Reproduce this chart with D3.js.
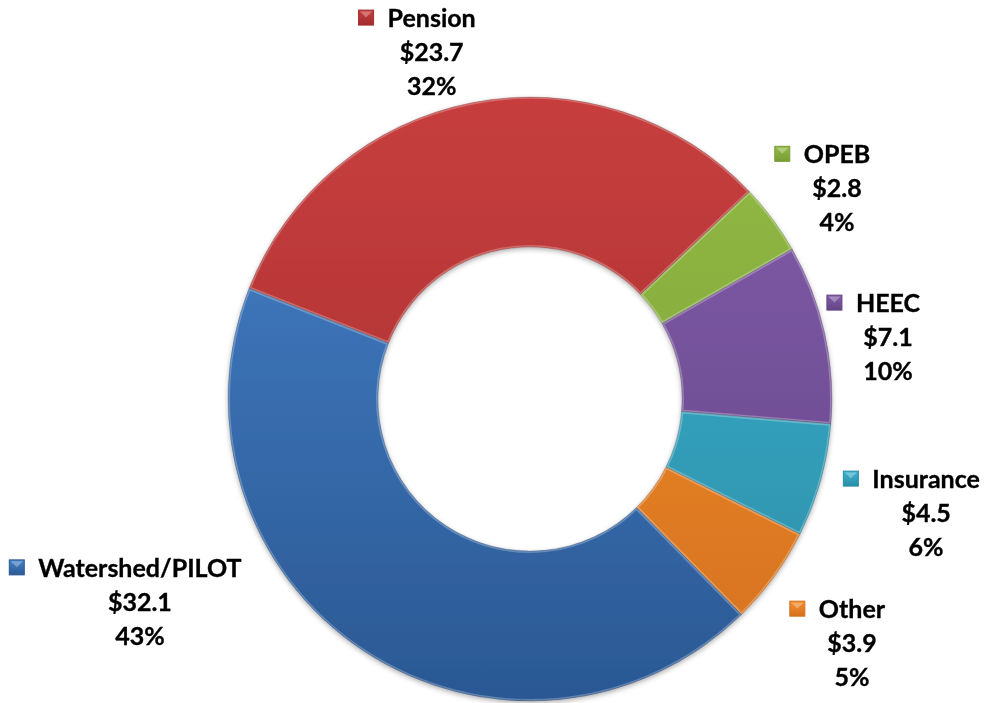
<!DOCTYPE html>
<html><head><meta charset="utf-8">
<script src="https://cdn.jsdelivr.net/npm/d3@7"></script>
<style>body{margin:0;background:#fff}svg{display:block}</style>
</head><body><svg id="c" width="985" height="703"></svg>
<script>
// ---- data ----
const categories = ["Pension", "OPEB", "HEEC", "Insurance", "Other", "Watershed/PILOT"];
const values = [23.7, 2.8, 7.1, 4.5, 3.9, 32.1];
const lightColors = ["#C73E3E", "#93BB46", "#835CAB", "#3DB2D0", "#F68F2F", "#4482CA"];
const darkColors  = ["#A12D2D", "#789C34", "#634585", "#2A8DA6", "#D4711D", "#2B5893"];
// label placement: angular shift (deg) from slice mid-angle, distance as multiple of outer radius
const labelShift  = [-4.9, 2.1, 2.7, 0.4, 1.1, 29.0];
const labelRadius = [1.194, 1.233, 1.203, 1.365, 1.338, 1.456];

// ---- layout ----
const cx = 530, cy = 399, R = 302, r = 152;
const startDeg = -68.5;
const svg = d3.select("#c");
const defs = svg.append("defs");

const total = d3.sum(values);
const pct = d3.format(".0%");
const money = v => "$" + d3.format(".1f")(v);

// gradients (in the ring's local coordinates)
categories.forEach((c, i) => {
  const g = defs.append("linearGradient").attr("id", "g" + i)
    .attr("gradientUnits", "userSpaceOnUse")
    .attr("x1", 0).attr("y1", -R).attr("x2", 0).attr("y2", R);
  g.append("stop").attr("offset", 0).attr("stop-color", lightColors[i]);
  g.append("stop").attr("offset", 1).attr("stop-color", darkColors[i]);
  const m = defs.append("linearGradient").attr("id", "m" + i)
    .attr("x1", 0).attr("y1", 0).attr("x2", 0).attr("y2", 1);
  m.append("stop").attr("offset", 0).attr("stop-color", lightColors[i]);
  m.append("stop").attr("offset", 1).attr("stop-color", darkColors[i]);
});
const f = defs.append("filter").attr("id", "sh").attr("x", "-10%").attr("y", "-10%").attr("width", "120%").attr("height", "120%");
f.append("feDropShadow").attr("dx", 0).attr("dy", 2).attr("stdDeviation", 2.5)
  .attr("flood-color", "#000").attr("flood-opacity", 0.3);

const pie = d3.pie().sort(null).value(d => d)
  .startAngle(startDeg * Math.PI / 180)
  .endAngle(startDeg * Math.PI / 180 + 2 * Math.PI);
const arcs = pie(values);
const arc = d3.arc().innerRadius(r).outerRadius(R);

const g = svg.append("g").attr("transform", `translate(${cx},${cy})`);
const ring = g.append("g").attr("filter", "url(#sh)");

arcs.forEach((a, i) => {
  defs.append("clipPath").attr("id", "cp" + i)
    .append("path").attr("d", arc(a));
});

const slices = ring.selectAll("g.slice").data(arcs).join("g").attr("class", "slice");
slices.append("path")
  .attr("d", arc)
  .attr("fill", (d, i) => `url(#g${i})`);

// bevel highlight (inner stroke) and edge
slices.append("path")
  .attr("d", arc)
  .attr("fill", "none")
  .attr("stroke", "#fff").attr("stroke-opacity", 0.25).attr("stroke-width", 4)
  .attr("clip-path", (d, i) => `url(#cp${i})`);
slices.append("path")
  .attr("d", arc)
  .attr("fill", "none")
  .attr("stroke", "#000").attr("stroke-opacity", 0.2).attr("stroke-width", 0.8);

// labels
const lbl = g.append("g")
  .attr("font-family", "Lato, 'Open Sans', sans-serif")
  .attr("font-weight", 700).attr("font-size", 25).attr("fill", "#000")
  .attr("stroke", "#000").attr("stroke-width", 0.35);
const lineGap = 34, capHalf = 8.8;
arcs.forEach((a, i) => {
  const mid = (a.startAngle + a.endAngle) / 2 + labelShift[i] * Math.PI / 180;
  const d = labelRadius[i] * R;
  const x = Math.sin(mid) * d, y = -Math.cos(mid) * d;
  const lines = [categories[i], money(values[i]), pct(values[i] / total)];
  const texts = lines.map((t, k) => lbl.append("text")
    .attr("x", x).attr("y", y + (k - 1) * lineGap + capHalf)
    .attr("text-anchor", "middle").text(t));
  const w = texts[0].node().getComputedTextLength();
  const ms = 15;
  const mx = x - w / 2 - 14 - ms, my = y - lineGap - ms / 2 - 0.5;
  lbl.append("rect")
    .attr("x", mx).attr("y", my)
    .attr("width", ms).attr("height", ms)
    .attr("fill", `url(#m${i})`)
    .attr("stroke", darkColors[i]).attr("stroke-width", 1);
  lbl.append("path")
    .attr("d", `M${mx + 1.5},${my + 1.5}h${ms - 3}l${-(ms - 3) / 2},${(ms - 3) / 2}z`)
    .attr("fill", "#fff").attr("fill-opacity", 0.3).attr("stroke", "none");
});
</script>
</body></html>
